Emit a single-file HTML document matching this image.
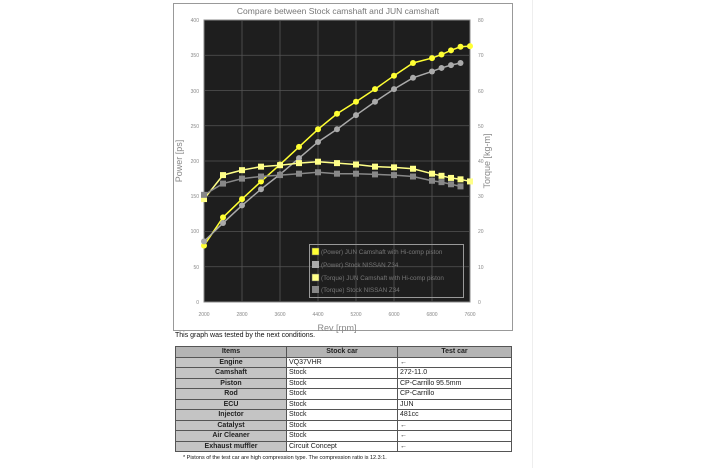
<!DOCTYPE html>
<html><head><meta charset="utf-8"><style>
body{margin:0;background:#fff;width:702px;height:468px;overflow:hidden;font-family:"Liberation Sans",sans-serif;position:relative}
#frame{position:absolute;left:172px;top:0;width:360px;height:468px;border-right:1px solid #eee}
table{position:absolute;left:175px;top:346px;width:337px;border-collapse:collapse;font-size:7px}
td,th{border:1px solid #555;height:9.5px;padding:0 2px;line-height:9px;color:#222}
th{background:#b4b4b4;font-weight:bold;text-align:center}
td.h{background:#c4c4c4;font-weight:bold;text-align:center}
.t{position:absolute;font-size:7px;color:#111}
</style></head><body>
<div id="frame"></div>
<svg width="702" height="468" style="position:absolute;left:0;top:0" font-family="Liberation Sans, sans-serif">
<rect x="173.5" y="3.5" width="339" height="327" fill="#fff" stroke="#999"/>
<text x="338" y="14" font-size="8.5" fill="#777" text-anchor="middle">Compare between Stock camshaft and JUN camshaft</text>
<rect x="204" y="20" width="266" height="282" fill="#1e1e1e" stroke="#888"/>
<g stroke="#555" stroke-width="0.8">
<line x1="242" y1="20" x2="242" y2="302"/><line x1="280" y1="20" x2="280" y2="302"/><line x1="318" y1="20" x2="318" y2="302"/><line x1="356" y1="20" x2="356" y2="302"/><line x1="394" y1="20" x2="394" y2="302"/><line x1="432" y1="20" x2="432" y2="302"/>
<line x1="204" y1="55.25" x2="470" y2="55.25"/><line x1="204" y1="90.5" x2="470" y2="90.5"/><line x1="204" y1="125.75" x2="470" y2="125.75"/><line x1="204" y1="161" x2="470" y2="161"/><line x1="204" y1="196.25" x2="470" y2="196.25"/><line x1="204" y1="231.5" x2="470" y2="231.5"/><line x1="204" y1="266.75" x2="470" y2="266.75"/>
</g>
<g font-size="5" fill="#888" text-anchor="end">
<text x="199" y="22">400</text><text x="199" y="93">300</text><text x="199" y="128">250</text><text x="199" y="57">350</text><text x="199" y="163">200</text><text x="199" y="198">150</text><text x="199" y="233">100</text><text x="199" y="269">50</text><text x="199" y="304">0</text>
</g>
<g font-size="5" fill="#888">
<text x="478" y="22">80</text><text x="478" y="57">70</text><text x="478" y="93">60</text><text x="478" y="128">50</text><text x="478" y="163">40</text><text x="478" y="198">30</text><text x="478" y="233">20</text><text x="478" y="269">10</text><text x="478" y="304">0</text>
</g>
<g font-size="5" fill="#888" text-anchor="middle">
<text x="204" y="316">2000</text><text x="242" y="316">2800</text><text x="280" y="316">3600</text><text x="318" y="316">4400</text><text x="356" y="316">5200</text><text x="394" y="316">6000</text><text x="432" y="316">6800</text><text x="470" y="316">7600</text>
</g>
<text x="337" y="331" font-size="9" fill="#888" text-anchor="middle">Rev [rpm]</text>
<text transform="translate(182,161) rotate(-90)" font-size="9" fill="#888" text-anchor="middle">Power [ps]</text>
<text transform="translate(490,161) rotate(-90)" font-size="9" fill="#888" text-anchor="middle">Torque [kg-m]</text>
<g id="series"></g>
<rect x="309.5" y="244.5" width="154" height="53" fill="none" stroke="#999"/>
<rect x="312" y="248" width="7" height="7" fill="#ffff33" stroke="#666" stroke-width=".5"/>
<rect x="312" y="261" width="7" height="7" fill="#aaa"/>
<rect x="312" y="274" width="7" height="7" fill="#ffff88" stroke="#666" stroke-width=".5"/>
<rect x="312" y="286" width="7" height="7" fill="#888"/>
<g font-size="6.3" fill="#777"><text x="321" y="254">(Power) JUN Camshaft with Hi-comp piston</text><text x="321" y="267">(Power) Stock NISSAN Z34</text><text x="321" y="280">(Torque) JUN Camshaft with Hi-comp piston</text><text x="321" y="292">(Torque) Stock NISSAN Z34</text></g>
</svg>
<div class="t" style="left:175px;top:332px">This graph was tested by the next conditions.</div>
<table>
<tr><th style="width:106px">Items</th><th style="width:106px">Stock car</th><th>Test car</th></tr>
<tr><td class="h">Engine</td><td>VQ37VHR</td><td>←</td></tr>
<tr><td class="h">Camshaft</td><td>Stock</td><td>272-11.0</td></tr>
<tr><td class="h">Piston</td><td>Stock</td><td>CP-Carrillo 95.5mm</td></tr>
<tr><td class="h">Rod</td><td>Stock</td><td>CP-Carrillo</td></tr>
<tr><td class="h">ECU</td><td>Stock</td><td>JUN</td></tr>
<tr><td class="h">Injector</td><td>Stock</td><td>481cc</td></tr>
<tr><td class="h">Catalyst</td><td>Stock</td><td>←</td></tr>
<tr><td class="h">Air Cleaner</td><td>Stock</td><td>←</td></tr>
<tr><td class="h">Exhaust muffler</td><td>Circuit Concept</td><td>←</td></tr>
</table>
<div class="t" style="left:183px;top:455px;font-size:5.5px">* Pistons of the test car are high compression type. The compression ratio is 12.3:1.</div>
<script>
var rp=[2000,2400,2800,3200,3600,4000,4400,4800,5200,5600,6000,6400,6800,7000,7200,7400,7600];
var S=[
 {d:[80,120,146,171,195,220,245,267,284,302,321,339,346,351,357,362,363],c:"#ffff33",sq:0},
 {d:[86,112,137,160,181,204,227,245,265,284,302,318,327,332,336,339],c:"#aaaaaa",sq:0},
 {d:[146,180,187,192,194,197,199,197,195,192,191,189,182,179,176,174,171],c:"#ffff88",sq:1},
 {d:[152,168,175,178,180,182,184,182,182,181,180,178,172,170,167,164],c:"#888888",sq:1}];
var g=document.getElementById('series'),h='';
S.forEach(function(s){var p=s.d.map(function(v,i){return [204+(rp[i]-2000)*0.0475,302-v*0.705]});
h+='<polyline fill="none" stroke="'+s.c+'" stroke-width="1.5" points="'+p.map(function(q){return q.join(',')}).join(' ')+'"/>';
p.forEach(function(q){h+=s.sq?'<rect x="'+(q[0]-3)+'" y="'+(q[1]-3)+'" width="6" height="6" fill="'+s.c+'"/>':'<circle cx="'+q[0]+'" cy="'+q[1]+'" r="3" fill="'+s.c+'"/>';});});
g.innerHTML=h;
</script>
</body></html>
